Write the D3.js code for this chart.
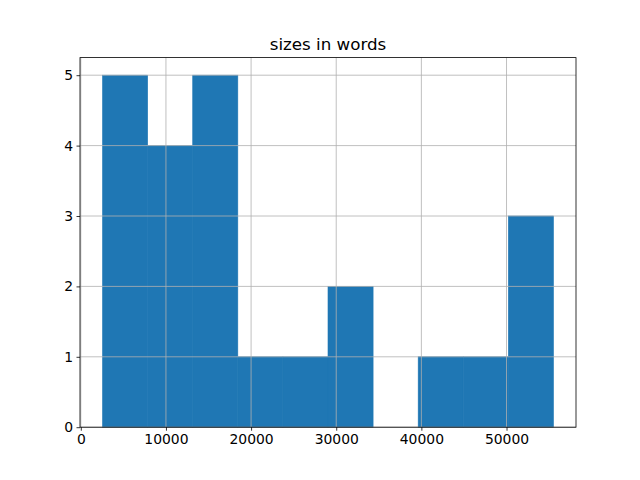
<!DOCTYPE html>
<html>
<head>
<meta charset="utf-8">
<script src="https://cdn.jsdelivr.net/npm/d3@7"></script>
<style>
  body { margin: 0; background: #fff; }
  svg text { font-family: "DejaVu Sans", sans-serif; fill: #000; }
</style>
</head>
<body>
<div id="chart"></div>
<script>
// histogram of sizes in words, 10 bins
var binStart = 2553;
var binWidth = 5296;
var counts = [5, 4, 5, 1, 1, 2, 0, 1, 1, 3];
var xTicks = [0, 10000, 20000, 30000, 40000, 50000];
var yTicks = [0, 1, 2, 3, 4, 5];
var title = "sizes in words";

var bins = counts.map(function(c, i) {
  return {x0: binStart + i * binWidth, x1: binStart + (i + 1) * binWidth, n: c};
});

var W = 640, H = 480;
var margin = {top: 57.6, right: 64, bottom: 52.8, left: 80};
var width = W - margin.left - margin.right,
    height = H - margin.top - margin.bottom;

var lo = bins[0].x0, hi = bins[bins.length - 1].x1;
var pad = (hi - lo) * 0.05;

var x = d3.scaleLinear().domain([lo - pad, hi + pad]).range([0, width]);
var y = d3.scaleLinear().domain([0, d3.max(counts) * 1.05]).range([height, 0]);

var svg = d3.select("#chart").append("svg")
  .attr("width", W)
  .attr("height", H);

var g = svg.append("g")
  .attr("transform", "translate(" + margin.left + "," + margin.top + ")");

g.selectAll("rect.bar")
  .data(bins)
  .enter()
  .append("rect")
  .attr("class", "bar")
  .attr("x", function(d) { return x(d.x0); })
  .attr("y", function(d) { return y(d.n); })
  .attr("width", function(d) { return x(d.x1) - x(d.x0); })
  .attr("height", function(d) { return y(0) - y(d.n); })
  .attr("fill", "#1f77b4")
  .attr("stroke", "#1f77b4")
  .attr("stroke-width", 0.6);

// grid on top of bars
g.selectAll("line.vgrid")
  .data(xTicks)
  .enter()
  .append("line")
  .attr("x1", function(d) { return x(d); })
  .attr("x2", function(d) { return x(d); })
  .attr("y1", 0)
  .attr("y2", height)
  .attr("stroke", "#b0b0b0")
  .attr("stroke-width", 0.8);

g.selectAll("line.hgrid")
  .data(yTicks)
  .enter()
  .append("line")
  .attr("x1", 0)
  .attr("x2", width)
  .attr("y1", function(d) { return y(d); })
  .attr("y2", function(d) { return y(d); })
  .attr("stroke", "#b0b0b0")
  .attr("stroke-width", 0.8);

var xAxis = g.append("g")
  .attr("transform", "translate(0," + height + ")")
  .call(d3.axisBottom(x).tickValues(xTicks).tickFormat(d3.format("d")).tickSize(3.5).tickPadding(3.5));

var yAxis = g.append("g")
  .call(d3.axisLeft(y).tickValues(yTicks).tickFormat(d3.format("d")).tickSize(3.5).tickPadding(3.5));

[xAxis, yAxis].forEach(function(a) {
  a.select(".domain").remove();
  a.selectAll("text").style("font-size", "13.9px");
  a.selectAll("line").attr("stroke", "#000").attr("stroke-width", 0.8);
});

g.append("rect")
  .attr("width", width)
  .attr("height", height)
  .attr("fill", "none")
  .attr("stroke", "#000")
  .attr("stroke-width", 0.8);

svg.append("text")
  .attr("x", margin.left + width / 2)
  .attr("y", margin.top - 8)
  .attr("text-anchor", "middle")
  .style("font-size", "16.7px")
  .text(title);
</script>
</body>
</html>
